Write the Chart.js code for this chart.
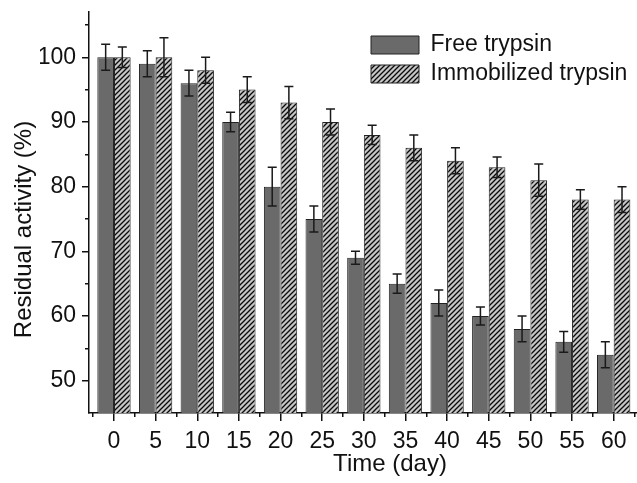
<!DOCTYPE html>
<html>
<head>
<meta charset="utf-8">
<script src="https://cdn.jsdelivr.net/npm/chart.js@4.4.1/dist/chart.umd.min.js"></script>
<style>
html,body{margin:0;padding:0;background:#fff;}
#wrap{width:637px;height:483px;position:relative;}
</style>
</head>
<body>
<div id="wrap"><canvas id="c" width="637" height="483"></canvas></div>
<script>
// ---- data ----
const days = [0, 5, 10, 15, 20, 25, 30, 35, 40, 45, 50, 55, 60];
const freeActivity = [100, 99, 96, 90, 80, 75, 69, 65, 62, 60, 58, 56, 54];
const freeError = [2, 2, 2, 1.5, 3, 2, 1, 1.5, 2, 1.4, 2, 1.6, 2];
const immobilizedActivity = [100, 100, 98, 95, 93, 90, 88, 86, 84, 83, 81, 78, 78];
const immobilizedError = [1.6, 3, 2, 2, 2.5, 2, 1.5, 2, 2, 1.6, 2.5, 1.5, 2];
const yMajorTicks = [50, 60, 70, 80, 90, 100];
const yMinorTicks = [55, 65, 75, 85, 95, 105];
const xMinorTicks = [-2.5, 2.5, 7.5, 12.5, 17.5, 22.5, 27.5, 32.5, 37.5, 42.5, 47.5, 52.5, 57.5, 62.5];
const seriesNames = ['Free trypsin', 'Immobilized trypsin'];
const xTitleText = 'Time (day)';
const yTitleText = 'Residual activity (%)';

const FONT = "'Liberation Sans', Arial, Helvetica, sans-serif";
const INK = '#111';

function hatchPattern() {
  const s = 5;
  const c = document.createElement('canvas');
  c.width = s; c.height = s;
  const g = c.getContext('2d');
  g.fillStyle = '#c6c6c6';
  g.fillRect(0, 0, s, s);
  g.strokeStyle = '#0a0a0a';
  g.lineWidth = 1.3;
  g.beginPath();
  g.moveTo(-1, s + 1); g.lineTo(s + 1, -1);
  g.moveTo(-1, 1); g.lineTo(1, -1);
  g.moveTo(s - 1, s + 1); g.lineTo(s + 1, s - 1);
  g.stroke();
  return g.createPattern(c, 'repeat');
}

const errorBars = {
  id: 'errorBars',
  afterDatasetsDraw(chart) {
    const ctx = chart.ctx;
    const ys = chart.scales.y;
    ctx.save();
    ctx.strokeStyle = '#1a1a1a';
    ctx.lineWidth = 1.5;
    chart.data.datasets.forEach((ds, i) => {
      const meta = chart.getDatasetMeta(i);
      meta.data.forEach((bar, j) => {
        const v = ds.data[j].y;
        const e = ds.errorValues[j];
        const yt = ys.getPixelForValue(v + e);
        const yb = ys.getPixelForValue(v - e);
        const x = bar.x;
        ctx.beginPath();
        ctx.moveTo(x, yt); ctx.lineTo(x, yb);
        ctx.moveTo(x - 4.5, yt); ctx.lineTo(x + 4.5, yt);
        ctx.moveTo(x - 4.5, yb); ctx.lineTo(x + 4.5, yb);
        ctx.stroke();
      });
    });
    ctx.restore();
  }
};

const placeExtras = {
  id: 'placeExtras',
  afterLayout(chart) {
    const lg = chart.legend;
    if (lg) { lg.left = 365; lg.top = 27.5; }
    const xt = chart.scales.xTitle;
    if (xt) { xt.left += 27; xt.right += 27; }
    const yt = chart.scales.yTitle;
    if (yt) { yt.top += 17; yt.bottom += 17; }
  }
};

const tickFont = { family: FONT, size: 23 };
const titleFont = { family: FONT, size: 24 };

new Chart(document.getElementById('c'), {
  type: 'bar',
  data: {
    datasets: [
      {
        label: seriesNames[0],
        data: days.map((d, i) => ({ x: d, y: freeActivity[i] })),
        errorValues: freeError,
        backgroundColor: '#6a6a6a',
        borderColor: '#222',
        borderWidth: 1,
        xAxisID: 'x', yAxisID: 'y',
        categoryPercentage: 0.8,
        barPercentage: 1.0
      },
      {
        label: seriesNames[1],
        data: days.map((d, i) => ({ x: d, y: immobilizedActivity[i] })),
        errorValues: immobilizedError,
        backgroundColor: hatchPattern(),
        borderColor: '#222',
        borderWidth: 1,
        xAxisID: 'x', yAxisID: 'y',
        categoryPercentage: 0.8,
        barPercentage: 1.0
      }
    ]
  },
  options: {
    responsive: false,
    maintainAspectRatio: false,
    animation: false,
    devicePixelRatio: 1,
    layout: { padding: { top: 12, right: 0, bottom: 0, left: 0 } },
    plugins: {
      legend: {
        position: 'chartArea',
        align: 'start',
        labels: {
          boxWidth: 48,
          boxHeight: 18,
          padding: 6,
          color: INK,
          font: { family: FONT, size: 23 }
        }
      },
      tooltip: { enabled: false },
      title: { display: false }
    },
    scales: {
      x: {
        type: 'linear', position: 'bottom', weight: 1,
        min: -3, max: 62.8, offset: false,
        afterBuildTicks: s => { s.ticks = days.map(v => ({ value: v })); },
        afterFit: s => { s.height = 45; s.paddingLeft = 0; s.paddingRight = 0; },
        grid: { display: true, offset: false, drawOnChartArea: false, drawTicks: true, tickLength: 8, color: INK, lineWidth: 1.5 },
        border: { display: true, color: INK, width: 1.5 },
        ticks: { font: tickFont, color: INK, padding: 7, maxRotation: 0, autoSkip: false }
      },
      xMinor: {
        type: 'linear', position: 'bottom', weight: 0,
        min: -3, max: 62.8, offset: false,
        afterBuildTicks: s => { s.ticks = xMinorTicks.map(v => ({ value: v })); },
        afterFit: s => { s.height = 0; },
        grid: { display: true, offset: false, drawOnChartArea: false, drawTicks: true, tickLength: 4, color: INK, lineWidth: 1.5 },
        border: { display: false },
        ticks: { display: false }
      },
      xTitle: {
        type: 'linear', position: 'bottom', weight: 2,
        afterFit: s => { s.height = 25; },
        grid: { display: false },
        border: { display: false },
        ticks: { display: false },
        title: { display: true, text: xTitleText, color: INK, font: titleFont, padding: { top: 0, bottom: 4 } }
      },
      y: {
        type: 'linear', position: 'left', weight: 1,
        min: 45, max: 107, beginAtZero: false,
        afterBuildTicks: s => { s.ticks = yMajorTicks.map(v => ({ value: v })); },
        afterFit: s => { s.width = 49; s.paddingTop = 0; s.paddingBottom = 0; },
        grid: { display: true, drawOnChartArea: false, drawTicks: true, tickLength: 7, color: INK, lineWidth: 1.5 },
        border: { display: true, color: INK, width: 1.5 },
        ticks: { font: tickFont, color: INK, padding: 6 }
      },
      yMinor: {
        type: 'linear', position: 'left', weight: 0,
        min: 45, max: 107,
        afterBuildTicks: s => { s.ticks = yMinorTicks.map(v => ({ value: v })); },
        afterFit: s => { s.width = 0; },
        grid: { display: true, drawOnChartArea: false, drawTicks: true, tickLength: 4, color: INK, lineWidth: 1.5 },
        border: { display: false },
        ticks: { display: false }
      },
      yTitle: {
        type: 'linear', position: 'left', weight: 2,
        afterFit: s => { s.width = 40; },
        grid: { display: false },
        border: { display: false },
        ticks: { display: false },
        title: { display: true, text: yTitleText, color: INK, font: titleFont, padding: { top: 10, bottom: 0 } }
      }
    }
  },
  plugins: [errorBars, placeExtras]
});
</script>
</body>
</html>
